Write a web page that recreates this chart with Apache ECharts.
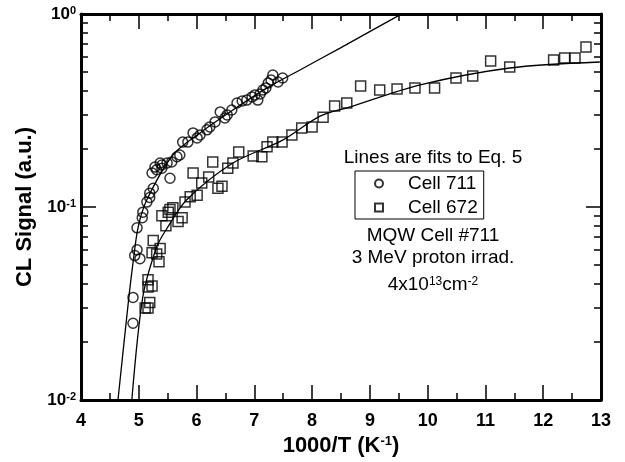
<!DOCTYPE html>
<html><head><meta charset="utf-8">
<script src="https://cdn.jsdelivr.net/npm/echarts@6/dist/echarts.min.js"></script>
<style>html,body{margin:0;padding:0;background:#fff}#c{width:625px;height:462px}</style>
</head><body><div id="c"></div>
<script>
// ---- data ----
const cell711X = [4.90,4.90,4.93,4.97,5.02,4.97,5.06,5.07,5.14,5.19,5.19,5.25,5.23,5.28,5.31,5.37,5.40,5.40,5.54,5.49,5.57,5.66,5.71,5.76,5.85,5.94,6.01,6.06,6.18,6.23,6.32,6.41,6.49,6.53,6.61,6.70,6.79,6.87,6.96,7.01,7.06,7.10,7.15,7.20,7.24,7.29,7.32,7.41,7.49];
const cell711Y = [0.025,0.034,0.056,0.060,0.054,0.078,0.088,0.094,0.106,0.112,0.118,0.125,0.150,0.161,0.156,0.169,0.165,0.159,0.141,0.169,0.171,0.182,0.186,0.217,0.217,0.242,0.228,0.236,0.251,0.260,0.276,0.311,0.289,0.300,0.318,0.346,0.354,0.358,0.372,0.381,0.358,0.385,0.404,0.414,0.439,0.455,0.483,0.444,0.466];
const cell672X = [5.11,5.16,5.19,5.16,5.16,5.23,5.35,5.23,5.31,5.37,5.25,5.47,5.40,5.51,5.54,5.59,5.68,5.75,5.80,5.89,6.01,5.94,6.09,6.21,6.28,6.37,6.44,6.54,6.63,6.73,6.98,7.13,7.22,7.32,7.48,7.65,7.82,8.00,8.19,8.39,8.60,8.84,9.17,9.47,9.78,10.12,10.49,10.78,11.09,11.42,12.18,12.37,12.55,12.74];
const cell672Y = [0.030,0.030,0.032,0.0385,0.042,0.039,0.052,0.058,0.057,0.061,0.067,0.080,0.090,0.094,0.097,0.099,0.084,0.088,0.106,0.113,0.115,0.150,0.133,0.143,0.171,0.125,0.128,0.159,0.169,0.193,0.184,0.182,0.205,0.217,0.217,0.236,0.257,0.260,0.292,0.334,0.346,0.424,0.404,0.409,0.414,0.414,0.466,0.477,0.571,0.531,0.578,0.592,0.592,0.675];
// fitted curves
const fit711X = [4.64,4.81,4.90,4.99,5.14,5.59,6.06,6.63,7.22,7.79,8.50,9.52];
const fit711Y = [0.010,0.0303,0.0513,0.0788,0.109,0.186,0.242,0.318,0.414,0.513,0.670,0.99];
const fit672X = [4.88,5.07,5.31,5.47,5.83,6.63,7.49,8.13,8.66,9.87,11.42,12.98];
const fit672Y = [0.010,0.0342,0.062,0.076,0.109,0.169,0.222,0.295,0.330,0.429,0.525,0.564];
// axis ticks
const xMin = 4, xMax = 13, xStep = 1;
const yMin = 0.01, yMax = 1;
const yMinorTicks = [0.02,0.03,0.04,0.05,0.06,0.07,0.08,0.09,0.2,0.3,0.4,0.5,0.6,0.7,0.8,0.9];
// annotation texts
const noteLines = ['MQW Cell #711', '3 MeV proton irrad.'];

const pairs = (xs, ys) => xs.map((x, i) => [x, ys[i]]);

const FONT = 'Liberation Sans, Arial, sans-serif';
const chart = echarts.init(document.getElementById('c'), null, {renderer: 'canvas'});
const axisLineStyle = {color: '#000', width: 3};
const tickStyle = {color: '#000', width: 1.5};
const baseX = {
  type: 'value', min: xMin, max: xMax, interval: xStep,
  axisLine: {show: true, onZero: false, lineStyle: axisLineStyle},
  axisTick: {show: true, inside: true, length: 15, lineStyle: tickStyle},
  minorTick: {show: true, splitNumber: 2, length: 7, lineStyle: tickStyle},
  splitLine: {show: false}, minorSplitLine: {show: false}
};
const minorY = pos => ({
  type: 'log', logBase: 10, min: yMin, max: yMax, position: pos,
  axisLine: {show: false}, splitLine: {show: false}, axisLabel: {show: false},
  axisTick: {show: true, inside: true, length: 7, customValues: yMinorTicks, lineStyle: tickStyle}
});
const option = {
  animation: false,
  backgroundColor: '#fff',
  grid: {left: 81, right: 24, top: 14, bottom: 62, containLabel: false},
  xAxis: [
    Object.assign({}, baseX, {
      position: 'bottom',
      axisLabel: {show: true, margin: 12, color: '#000', fontFamily: FONT, fontWeight: 'bold', fontSize: 18},
      name: '{a|1000/T (K}{s|-1}{a|)}', nameLocation: 'middle', nameGap: 34,
      nameTextStyle: {rich: {
        a: {fontFamily: FONT, fontWeight: 'bold', fontSize: 22, color: '#000'},
        s: {fontFamily: FONT, fontWeight: 'bold', fontSize: 13, color: '#000', verticalAlign: 'top'}
      }}
    }),
    Object.assign({}, baseX, {position: 'top', axisLabel: {show: false}})
  ],
  yAxis: [
    {
      type: 'log', logBase: 10, min: yMin, max: yMax, position: 'left',
      axisLine: {show: true, onZero: false, lineStyle: axisLineStyle},
      axisTick: {show: true, inside: true, length: 15, lineStyle: tickStyle},
      splitLine: {show: false},
      axisLabel: {
        margin: 5,
        formatter: v => '{b|10}{s|' + Math.round(Math.log10(v)) + '}',
        rich: {
          b: {fontFamily: FONT, fontWeight: 'bold', fontSize: 17, color: '#000'},
          s: {fontFamily: FONT, fontWeight: 'bold', fontSize: 11, color: '#000', verticalAlign: 'top'}
        }
      },
      name: 'CL Signal (a.u.)', nameLocation: 'middle', nameGap: 45, nameRotate: 90,
      nameTextStyle: {fontFamily: FONT, fontWeight: 'bold', fontSize: 22, color: '#000'}
    },
    {
      type: 'log', logBase: 10, min: yMin, max: yMax, position: 'right',
      axisLine: {show: true, onZero: false, lineStyle: axisLineStyle},
      axisTick: {show: true, inside: true, length: 15, lineStyle: tickStyle},
      splitLine: {show: false}, axisLabel: {show: false}
    },
    minorY('left'),
    minorY('right')
  ],
  legend: {
    show: true, orient: 'vertical', left: 355, top: 171,
    borderColor: '#000', borderWidth: 1, padding: [3, 6, 2, 19],
    itemWidth: 8, itemHeight: 8, itemGap: 5, selectedMode: false,
    formatter: name => '{t|' + name + '}',
    textStyle: {fontFamily: FONT, fontSize: 19, color: '#000',
      rich: {t: {fontFamily: FONT, fontSize: 19, color: '#000', lineHeight: 19, padding: [0, 0, 0, 20]}}},
    data: [{name: 'Cell 711', icon: 'circle'}, {name: 'Cell 672', icon: 'rect'}]
  },
  graphic: [
    {type: 'text', x: 433, y: 158, style: {text: 'Lines are fits to Eq. 5', font: '19px ' + FONT, fill: '#000', textAlign: 'center', textVerticalAlign: 'middle'}},
    {type: 'text', x: 433, y: 236, style: {text: noteLines[0], font: '19px ' + FONT, fill: '#000', textAlign: 'center', textVerticalAlign: 'middle'}},
    {type: 'text', x: 433, y: 258, style: {text: noteLines[1], font: '19px ' + FONT, fill: '#000', textAlign: 'center', textVerticalAlign: 'middle'}},
    {type: 'text', x: 433, y: 285, style: {
      text: '{a|4x10}{s|13}{a|cm}{s|-2}', textAlign: 'center', textVerticalAlign: 'middle',
      rich: {a: {fontFamily: FONT, fontSize: 19, color: '#000'}, s: {fontFamily: FONT, fontSize: 12, color: '#000', verticalAlign: 'top'}}
    }}
  ],
  series: [
    {
      name: 'Cell 711', type: 'scatter', xAxisIndex: 0, yAxisIndex: 0,
      symbol: 'circle', symbolSize: 10,
      itemStyle: {color: 'rgba(0,0,0,0)', borderColor: '#000', borderWidth: 1.5},
      data: pairs(cell711X, cell711Y), z: 3
    },
    {
      name: 'Cell 672', type: 'scatter', xAxisIndex: 0, yAxisIndex: 0,
      symbol: 'rect', symbolSize: 10,
      itemStyle: {color: 'rgba(0,0,0,0)', borderColor: '#000', borderWidth: 1.5},
      data: pairs(cell672X, cell672Y), z: 3
    },
    {
      name: 'fit711', type: 'line', xAxisIndex: 0, yAxisIndex: 0, smooth: 0.3,
      showSymbol: false, symbol: 'none', clip: true,
      lineStyle: {color: '#000', width: 1.3}, data: pairs(fit711X, fit711Y), z: 2
    },
    {
      name: 'fit672', type: 'line', xAxisIndex: 0, yAxisIndex: 0, smooth: 0.3,
      showSymbol: false, symbol: 'none', clip: true,
      lineStyle: {color: '#000', width: 1.3}, data: pairs(fit672X, fit672Y), z: 2
    }
  ]
};
chart.setOption(option);
</script>
</body></html>
